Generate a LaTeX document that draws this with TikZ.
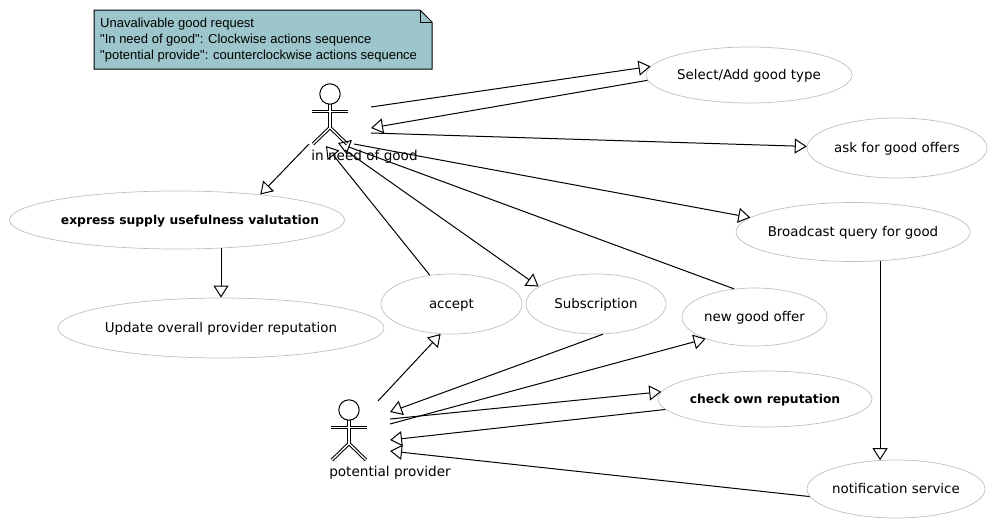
\documentclass[tikz,border=0pt]{standalone}
\usepackage{fontspec}
\setmainfont{DejaVu Sans}
\newfontfamily\notefont{Liberation Sans}
\usetikzlibrary{arrows.meta,shapes.geometric}
\definecolor{notefill}{HTML}{9CC5CC}
\tikzset{
	usecase/.style={ellipse, draw=black!25, line width=0.7pt, inner xsep=-50pt, inner ysep=-20pt, text height=10pt, text depth=1pt, font=\fontsize{13.4}{15}\selectfont},
	boldcase/.style={usecase, font=\fontsize{12.3}{15}\selectfont\bfseries},
	actorlabel/.style={font=\fontsize{13.6}{15}\selectfont, inner sep=0pt},
	link/.style={line width=1pt, -{Triangle[open, length=12pt, width=15pt, line width=1pt]}},
	limbout/.style={line width=3.4pt, line join=miter},
	limbin/.style={line width=1.3pt, white, line join=miter}
}
\def\stickman(#1){
	\begin{scope}[shift={(#1)}]
		\foreach \s in {limbout,limbin}{
			\draw[\s] (-18,17.5) -- (18,17.5);
			\draw[\s] (0,10) -- (0,33.5);
			\draw[\s] (-17,50) -- (0,33.5) -- (17,50);
		}
		\draw[line width=1pt, fill=white] (0,0) circle (10.2);
	\end{scope}
}

\begin{document}
\begin{tikzpicture}[x=1pt, y=-1pt]
	\useasboundingbox (0,0) rectangle (995,530);
	%%%%% START %%%%%

	\draw[line width=1pt, fill=notefill] (94,10) -- (420,10) -- (432,22) -- (432,69) -- (94,69) -- cycle;
	\draw[line width=1pt] (420,10) -- (420,22) -- (432,22);
	\node[anchor=west, align=left, inner sep=0pt, font=\notefont\fontsize{13}{16}\selectfont] (note) at (100,40.5) {Unavalivable good request\\"In need of good": Clockwise actions sequence\\"potential provide": counterclockwise actions sequence};

	\node[usecase, minimum width=206pt, minimum height=56pt] (selectgood) at (749,75) {Select/Add good type};
	\node[usecase, minimum width=180pt, minimum height=60pt] (askoffers) at (897,148) {ask for good offers};
	\node[usecase, minimum width=234pt, minimum height=59pt] (broadcast) at (853,232) {Broadcast query for good};
	\node[boldcase, minimum width=335pt, minimum height=58pt] (express) at (177,220) {\hspace*{26pt}express supply usefulness valutation};
	\node[usecase, minimum width=326pt, minimum height=60pt] (update) at (221,328) {Update overall provider reputation};
	\node[usecase, minimum width=141pt, minimum height=60pt] (accept) at (451.5,304) {accept};
	\node[usecase, minimum width=140pt, minimum height=60pt] (subscription) at (596,304) {Subscription};
	\node[usecase, minimum width=145pt, minimum height=58pt] (newoffer) at (754.5,317) {new good offer};
	\node[boldcase, minimum width=214pt, minimum height=56pt] (reputation) at (765,399) {check own reputation};
	\node[usecase, minimum width=178pt, minimum height=58pt] (notification) at (896,489) {notification service};

	\stickman(330,94)
	\stickman(349,410)
	\node[actorlabel] (needlabel) at (364.5,157) {in need of good};
	\node[actorlabel] (providerlabel) at (390,473) {potential provider};

	% free ends round the two actors
	\coordinate (needA) at (371,107);
	\coordinate (needB) at (371,128);
	\coordinate (needC) at (371,133);
	\coordinate (needD) at (354,144);
	\coordinate (needE) at (338,143);
	\coordinate (needF) at (326,146);
	\coordinate (needG) at (345,150);
	\coordinate (needH) at (309,144);
	\coordinate (provA) at (378,401);
	\coordinate (provB) at (390,412);
	\coordinate (provC) at (390,419);
	\coordinate (provD) at (390,424);
	\coordinate (provE) at (390,440);
	\coordinate (provF) at (390,451);

	\draw[link] (needA) -- (selectgood.175);
	\draw[link] (selectgood.183) -- (needB);
	\draw[link] (needC) -- (askoffers.179);
	\draw[link] (needD) -- (broadcast.172);
	\draw[link] (newoffer.126) -- (needE);
	\draw[link] (accept.127) -- (needF);
	\draw[link] (needG) -- (subscription.163);
	\draw[link] (needH) -- (express.17);
	\draw[link] (update.north |- express.-33) -- (update.north);
	\draw[link] (broadcast.313) -- (broadcast.313 |- notification.120);
	\draw[link] (provA) -- (accept.250);
	\draw[link] (subscription.283) -- (provB);
	\draw[link] (provC) -- (reputation.176);
	\draw[link] (provD) -- (newoffer.204);
	\draw[link] (reputation.186) -- (provE);
	\draw[link] (notification.185) -- (provF);

	%%%%% END %%%%%
\end{tikzpicture}
\end{document}
